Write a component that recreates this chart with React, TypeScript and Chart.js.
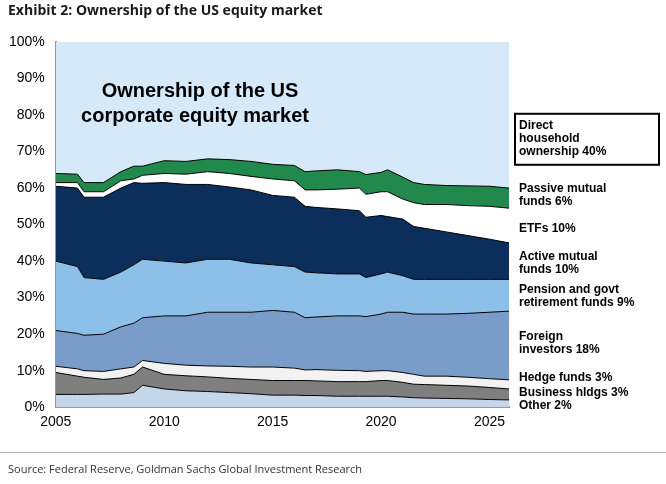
import React, { useEffect, useRef } from "react";
import { Chart, registerables } from "chart.js";
Chart.register(...registerables);

const years = [2005,2006,2006.3,2007.2,2008,2008.6,2009,2010,2011,2012,2013,2014,2015,2016,2016.5,2017,2018,2019,2019.3,2020,2020.3,2021,2021.5,2022,2023,2024,2025,2025.9];
const otherTop = [3.5,3.5,3.5,3.6,3.6,4,6,5,4.5,4.3,4,3.7,3.3,3.3,3.2,3.2,3,3,3,3,3,2.8,2.6,2.5,2.4,2.3,2.1,2];
const businessTop = [9.5,8.5,8.2,7.6,8,9,11,9,8.6,8.3,7.9,7.6,7.3,7.3,7.3,7.2,7,7,7,7.3,7.3,6.8,6.3,6.2,6,5.8,5.4,5];
const hedgeTop = [11.2,10.5,10,9.8,10.5,11,12.8,12,11.5,11.3,11.2,11,11,10.7,10.2,10.3,10.1,10,9.8,10,10,9.5,9,8.5,8.5,8.2,7.8,7.5];
const foreignTop = [21,20.2,19.7,20,22,23,24.5,25,25,26,26,26,26.5,26,24.5,24.7,25,25,24.8,25.5,26,26,25.5,25.5,25.5,25.7,26,26.3];
const pensionTop = [40,38.5,35.5,35,37,39,40.5,40,39.5,40.5,40.5,39.5,39,38.5,37,36.8,36.5,36.5,35.5,36.5,37,36,35,35,35,35,35,35];
const activeTop = [60.5,60,57.5,57.5,60,61.5,61.3,61.5,61,61,60.3,59.5,58,57.5,55,54.7,54.3,53.8,52,52.5,52.2,51.5,49.5,49,48,47,46,45];
const etfTop = [61.5,61.5,59,59,62,62.5,63.5,64,63.8,64.5,64,63.2,62.5,62,59.5,59.5,59.7,60,58.3,59,59,57,56,55.5,55.5,55.2,55,54.5];
const passiveTop = [64,63.8,61.5,61.5,64.5,66,66,67.5,67.3,68,67.8,67.3,66.5,66.2,64.5,64.7,65,64.5,63.7,64.3,65,63,61.5,61,60.7,60.6,60.5,60];
const directTop = years.map(() => 100);

const seriesNames = ["Other","Business hldgs","Hedge funds","Foreign investors","Pension and govt retirement funds","Active mutual funds","ETFs","Passive mutual funds","Direct household ownership"];
const seriesTops = [otherTop,businessTop,hedgeTop,foreignTop,pensionTop,activeTop,etfTop,passiveTop,directTop];
const colors = ["#c6d6ea","#7f7f7f","#f2f2f2","#7a9cc8","#8cc0e8","#0b2f5a","#ffffff","#22894c","#d6e9f9"];

const labelLines = [["Other 2%"],["Business hldgs 3%"],["Hedge funds 3%"],["Foreign","investors 18%"],["Pension and govt","retirement funds 9%"],["Active mutual","funds 10%"],["ETFs 10%"],["Passive mutual","funds 6%"],["Direct","household","ownership 40%"]];
const labelY = [0.5,4,8,17.5,30.5,39.5,49,58,73.5];

export default function App() {
  const ref = useRef<HTMLCanvasElement>(null);
  useEffect(() => {
    const labelsPlugin = {
      id: "labels",
      afterDraw(chart: any) {
        const ctx = chart.ctx;
        const x = chart.scales.x, y = chart.scales.y;
        ctx.save();
        ctx.fillStyle = "#000";
        ctx.font = "bold 12px Arial, 'Liberation Sans'";
        ctx.textBaseline = "middle";
        labelLines.forEach((lines, i) => {
          const cy = y.getPixelForValue(labelY[i]);
          const lh = 13;
          const startY = cy - ((lines.length - 1) * lh) / 2;
          lines.forEach((t, j) => ctx.fillText(t, 519, startY + j * lh));
          if (i === 8) {
            ctx.lineWidth = 2;
            ctx.strokeStyle = "#000";
            ctx.strokeRect(515, startY - 12, 144, lines.length * lh + 12);
          }
        });
        ctx.font = "bold 20px Arial, 'Liberation Sans'";
        ctx.textAlign = "center";
        ctx.fillText("Ownership of the US", 200, y.getPixelForValue(86.5));
        ctx.fillText("corporate equity market", 195, y.getPixelForValue(79.5));
        ctx.textAlign = "left";
        ctx.font = "bold 14px 'Open Sans', Arial";
        ctx.fillStyle = "#1a1a1a";
        ctx.fillText("Exhibit 2: Ownership of the US equity market", 8, 11);
        ctx.strokeStyle = "#b0b0b0";
        ctx.lineWidth = 1;
        ctx.beginPath();
        ctx.moveTo(0, 452.5); ctx.lineTo(666, 452.5);
        ctx.stroke();
        ctx.font = "11px 'Open Sans', Arial";
        ctx.fillStyle = "#333";
        ctx.fillText("Source: Federal Reserve, Goldman Sachs Global Investment Research", 8, 470);
        ctx.restore();
      },
    };
    const chart = new Chart(ref.current!, {
      type: "line",
      data: {
        datasets: seriesTops.map((tops, i) => ({
          label: seriesNames[i],
          data: years.map((yr, k) => ({ x: yr, y: tops[k] })),
          backgroundColor: colors[i],
          borderColor: "#000",
          borderWidth: i === 8 ? 0 : 1,
          pointRadius: 0,
          tension: 0,
          fill: i === 0 ? "origin" : "-1",
        })),
      },
      options: {
        responsive: false,
        animation: false,
        layout: { padding: { top: 42, right: 157, bottom: 50, left: 6 } },
        plugins: { legend: { display: false }, tooltip: { enabled: false } },
        scales: {
          x: {
            type: "linear", min: 2005, max: 2025.9,
            afterBuildTicks: (s: any) => { s.ticks = [2005,2010,2015,2020,2025].map(v => ({ value: v })); },
            grid: { display: false, drawTicks: true, tickLength: 4, color: "#888" },
            border: { color: "#999", width: 2 },
            ticks: { color: "#000", font: { size: 14, family: "Arial" }, maxRotation: 0, callback: (v: any) => String(v) },
          },
          y: {
            min: 0, max: 100,
            grid: { display: false },
            border: { color: "#999", width: 2 },
            ticks: { stepSize: 10, color: "#000", font: { size: 14, family: "Arial" }, callback: (v: any) => v + "%" },
          },
        },
      },
      plugins: [labelsPlugin],
    });
    return () => chart.destroy();
  }, []);
  return (
    <div style={{ position: "absolute", left: 0, top: 0, background: "#fff" }}>
      <canvas ref={ref} width={666} height={484} />
    </div>
  );
}
